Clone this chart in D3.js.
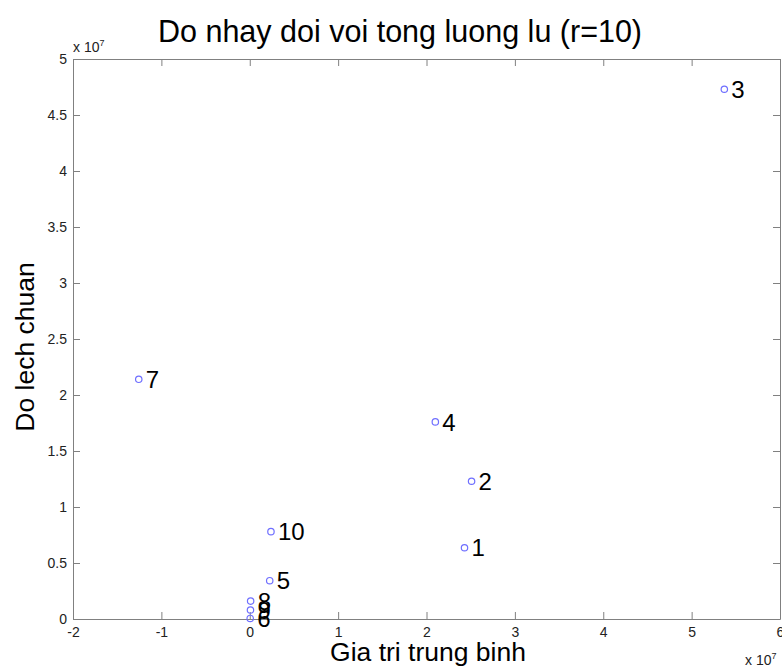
<!DOCTYPE html>
<html>
<head>
<meta charset="utf-8">
<script src="https://cdn.jsdelivr.net/npm/d3@7"></script>
<style>
	body { margin: 0; background: #fff; }
	text { font-family: "Liberation Sans", Arial, sans-serif; }
	.axis path, .axis line { stroke: #808080; }
	.axis text { fill: #222; font-size: 14px; font-family: "Liberation Sans", Arial, sans-serif; }
</style>
</head>
<body>
<svg width="782" height="672"></svg>
<script>
// values in units of 1e7
var labels = ["1","2","3","4","5","6","7","8","9","10"]
var means  = [2.43, 2.51, 5.37, 2.10, 0.226, 0.005, -1.256, 0.01, 0.008, 0.24]
var stds   = [0.636, 1.23, 4.73, 1.76, 0.342, 0.005, 2.14, 0.16, 0.08, 0.78]

var xTicks = [-2,-1,0,1,2,3,4,5,6]
var yTicks = [0,0.5,1,1.5,2,2.5,3,3.5,4,4.5,5]

var svg = d3.select("svg")
var mLeft = 73, mRight = 780, mTop = 59, mBottom = 619

var x = d3.scaleLinear().domain([-2,6]).range([mLeft,mRight])
var y = d3.scaleLinear().domain([0,5]).range([mBottom,mTop])

var points = labels.map((l,i) => ({label:l, mx:means[i], sd:stds[i]}))

// frame with ticks on all four sides, pointing inwards
svg.append("g").attr("class","axis")
	.attr("transform","translate(0,"+mBottom+")")
	.call(d3.axisBottom(x).tickValues(xTicks).tickSizeInner(-7).tickSizeOuter(0).tickPadding(8).tickFormat(d => String(d)))
svg.append("g").attr("class","axis")
	.attr("transform","translate(0,"+mTop+")")
	.call(d3.axisTop(x).tickValues(xTicks).tickSizeInner(-7).tickSizeOuter(0).tickFormat(""))
svg.append("g").attr("class","axis")
	.attr("transform","translate("+mLeft+",0)")
	.call(d3.axisLeft(y).tickValues(yTicks).tickSizeInner(-7).tickSizeOuter(0).tickPadding(6).tickFormat(d => String(d)))
svg.append("g").attr("class","axis")
	.attr("transform","translate("+mRight+",0)")
	.call(d3.axisRight(y).tickValues(yTicks).tickSizeInner(-7).tickSizeOuter(0).tickFormat(""))

// exponent markers
var e1 = svg.append("text").attr("x",73).attr("y",52).attr("font-size",14).attr("fill","#222")
e1.append("tspan").text("x 10")
e1.append("tspan").attr("font-size",9).attr("dy",-6).text("7")
var e2 = svg.append("text").attr("x",745).attr("y",665).attr("font-size",14).attr("fill","#222")
e2.append("tspan").text("x 10")
e2.append("tspan").attr("font-size",9).attr("dy",-6).text("7")

// point labels
svg.append("g").selectAll("text").data(points).enter().append("text")
	.attr("x", d => x(d.mx) + 7)
	.attr("y", d => y(d.sd))
	.attr("dy","0.36em")
	.attr("font-size",24)
	.attr("fill","#000")
	.text(d => d.label)

// markers
svg.append("g").selectAll("circle").data(points).enter().append("circle")
	.attr("cx", d => x(d.mx))
	.attr("cy", d => y(d.sd))
	.attr("r",3.2)
	.attr("fill","none")
	.attr("stroke","#6f6fff")
	.attr("stroke-width",1.2)

// titles
svg.append("text").attr("x",400).attr("y",42).attr("text-anchor","middle")
	.attr("font-size",30.5).text("Do nhay doi voi tong luong lu (r=10)")
svg.append("text").attr("x",428).attr("y",661).attr("text-anchor","middle")
	.attr("font-size",26.5).text("Gia tri trung binh")
svg.append("text").attr("transform","translate(34,347) rotate(-90)").attr("text-anchor","middle")
	.attr("font-size",26.5).text("Do lech chuan")
</script>
</body>
</html>
